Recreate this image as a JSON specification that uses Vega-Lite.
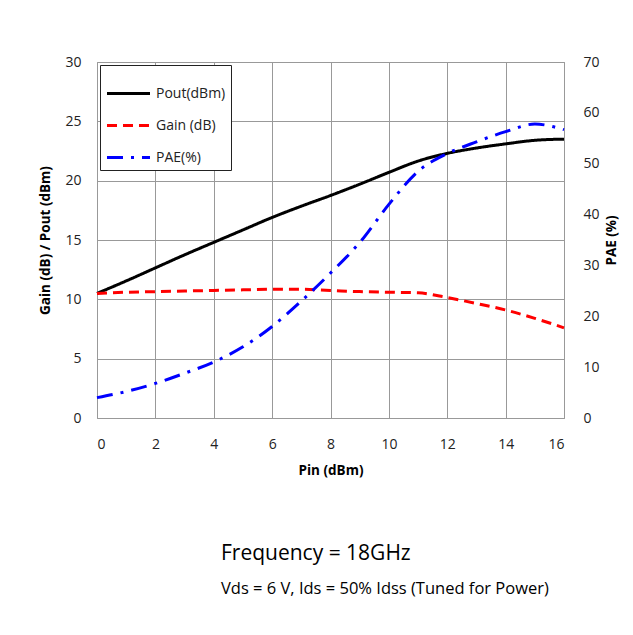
{
  "$schema": "https://vega.github.io/schema/vega-lite/v6.json",
  "autosize": "none",
  "width": 467,
  "height": 356,
  "padding": {"left": 97, "top": 62, "right": 69, "bottom": 217},
  "background": "white",
  "config": {
    "font": "Open Sans",
    "view": {"stroke": "#999999", "strokeWidth": 1},
    "axis": {"labelFont": "Open Sans", "labelFontSize": 14, "labelColor": "#222", "titleFont": "Open Sans", "titleFontSize": 13.5, "titleFontWeight": "bold", "titleColor": "#000", "ticks": false, "domain": false, "gridColor": "#999999", "gridOpacity": 1}
  },
  "title": {
    "text": "Frequency = 18GHz",
    "subtitle": "Vds = 6 V, Ids = 50% Idss (Tuned for Power)",
    "orient": "bottom",
    "anchor": "start",
    "frame": "group",
    "dx": 124,
    "offset": 66,
    "font": "Open Sans",
    "fontSize": 21,
    "fontWeight": "normal",
    "color": "#000",
    "subtitleFont": "Open Sans",
    "subtitleFontSize": 16.5,
    "subtitleColor": "#000",
    "subtitlePadding": 17
  },
  "data": {
    "values": [
      {"pin": 0, "series": "Pout(dBm)", "value": 10.5},
      {"pin": 1, "series": "Pout(dBm)", "value": 11.55},
      {"pin": 2, "series": "Pout(dBm)", "value": 12.65},
      {"pin": 3, "series": "Pout(dBm)", "value": 13.75},
      {"pin": 4, "series": "Pout(dBm)", "value": 14.8},
      {"pin": 5, "series": "Pout(dBm)", "value": 15.85},
      {"pin": 6, "series": "Pout(dBm)", "value": 16.9},
      {"pin": 7, "series": "Pout(dBm)", "value": 17.85},
      {"pin": 8, "series": "Pout(dBm)", "value": 18.75},
      {"pin": 9, "series": "Pout(dBm)", "value": 19.7},
      {"pin": 10, "series": "Pout(dBm)", "value": 20.7},
      {"pin": 11, "series": "Pout(dBm)", "value": 21.65},
      {"pin": 12, "series": "Pout(dBm)", "value": 22.3},
      {"pin": 13, "series": "Pout(dBm)", "value": 22.75},
      {"pin": 14, "series": "Pout(dBm)", "value": 23.1},
      {"pin": 15, "series": "Pout(dBm)", "value": 23.4},
      {"pin": 16, "series": "Pout(dBm)", "value": 23.5},
      {"pin": 0, "series": "Gain (dB)", "value": 10.5},
      {"pin": 1, "series": "Gain (dB)", "value": 10.6},
      {"pin": 2, "series": "Gain (dB)", "value": 10.65},
      {"pin": 3, "series": "Gain (dB)", "value": 10.7},
      {"pin": 4, "series": "Gain (dB)", "value": 10.75},
      {"pin": 5, "series": "Gain (dB)", "value": 10.8},
      {"pin": 6, "series": "Gain (dB)", "value": 10.85},
      {"pin": 7, "series": "Gain (dB)", "value": 10.85},
      {"pin": 8, "series": "Gain (dB)", "value": 10.75},
      {"pin": 9, "series": "Gain (dB)", "value": 10.65},
      {"pin": 10, "series": "Gain (dB)", "value": 10.6},
      {"pin": 11, "series": "Gain (dB)", "value": 10.55},
      {"pin": 12, "series": "Gain (dB)", "value": 10.15},
      {"pin": 13, "series": "Gain (dB)", "value": 9.65},
      {"pin": 14, "series": "Gain (dB)", "value": 9.1},
      {"pin": 15, "series": "Gain (dB)", "value": 8.4},
      {"pin": 16, "series": "Gain (dB)", "value": 7.6},
      {"pin": 0, "series": "PAE(%)", "value": 4.0},
      {"pin": 1, "series": "PAE(%)", "value": 5.2},
      {"pin": 2, "series": "PAE(%)", "value": 6.8},
      {"pin": 3, "series": "PAE(%)", "value": 8.8},
      {"pin": 4, "series": "PAE(%)", "value": 11.0},
      {"pin": 5, "series": "PAE(%)", "value": 14.0},
      {"pin": 6, "series": "PAE(%)", "value": 18.0},
      {"pin": 7, "series": "PAE(%)", "value": 23.0},
      {"pin": 8, "series": "PAE(%)", "value": 28.5},
      {"pin": 9, "series": "PAE(%)", "value": 34.5},
      {"pin": 10, "series": "PAE(%)", "value": 42.0},
      {"pin": 11, "series": "PAE(%)", "value": 48.5},
      {"pin": 12, "series": "PAE(%)", "value": 52.0},
      {"pin": 13, "series": "PAE(%)", "value": 54.3},
      {"pin": 14, "series": "PAE(%)", "value": 56.3},
      {"pin": 15, "series": "PAE(%)", "value": 57.8},
      {"pin": 16, "series": "PAE(%)", "value": 56.7}
    ]
  },
  "encoding": {
    "x": {"field": "pin", "type": "quantitative", "title": "Pin (dBm)",
      "scale": {"domain": [0, 16], "nice": false},
      "axis": {"values": [0, 2, 4, 6, 8, 10, 12, 14, 16], "labelPadding": 19, "titlePadding": 12, "grid": true}},
    "color": {"field": "series", "type": "nominal", "title": null,
      "scale": {"domain": ["Pout(dBm)", "Gain (dB)", "PAE(%)"], "range": ["#000000", "#ff0000", "#0000ff"]},
      "legend": {"orient": "top-left", "offset": 3, "strokeColor": "#222", "fillColor": "white", "padding": 5, "symbolType": "stroke", "symbolSize": 1850, "symbolStrokeWidth": 3, "labelFont": "Open Sans", "labelFontSize": 14, "labelColor": "#222", "rowPadding": 1, "labelOffset": 4}},
    "strokeDash": {"field": "series", "type": "nominal", "title": null,
      "scale": {"domain": ["Pout(dBm)", "Gain (dB)", "PAE(%)"], "range": [[1, 0], [10, 6], [16, 8, 3, 8]]}}
  },
  "layer": [
    {
      "transform": [{"filter": "datum.series !== 'PAE(%)'"}],
      "mark": {"type": "line", "strokeWidth": 3, "interpolate": "monotone"},
      "encoding": {
        "y": {"field": "value", "type": "quantitative", "title": "Gain (dB) / Pout (dBm)",
          "scale": {"domain": [0, 30], "nice": false},
          "axis": {"values": [0, 5, 10, 15, 20, 25, 30], "orient": "left", "grid": true, "labelPadding": 16, "titlePadding": 12}}
      }
    },
    {
      "transform": [{"filter": "datum.series === 'PAE(%)'"}],
      "mark": {"type": "line", "strokeWidth": 3, "interpolate": "monotone"},
      "encoding": {
        "y": {"field": "value", "type": "quantitative", "title": "PAE (%)",
          "scale": {"domain": [0, 70], "nice": false},
          "axis": {"values": [0, 10, 20, 30, 40, 50, 60, 70], "orient": "right", "grid": false, "labelPadding": 19, "titlePadding": 19, "titleAngle": 270}}
      }
    }
  ],
  "resolve": {"scale": {"y": "independent"}}
}
